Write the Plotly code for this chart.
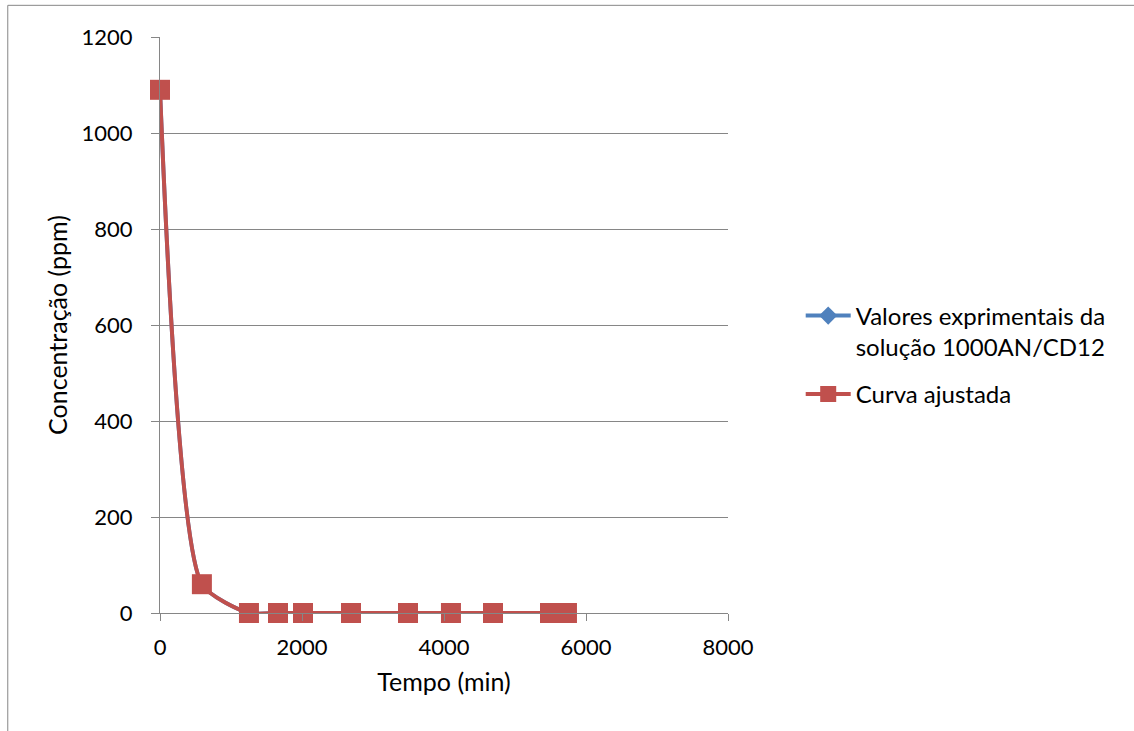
import plotly.graph_objects as go

# Time (min) and concentration (ppm)
tempo = [0, 590, 1253, 1662, 2014, 2690, 3493, 4098, 4690, 5493, 5732]
conc_exp = [1090, 60, 0, 0, 0, 0, 0, 0, 0, 0, 0]
conc_ajust = [1090, 60, 0, 0, 0, 0, 0, 0, 0, 0, 0]

FONT = "Lato"
GRID = "#868686"

fig = go.Figure()
fig.add_trace(go.Scatter(
    x=tempo, y=conc_exp, mode="lines+markers",
    name="Valores exprimentais da<br>solução 1000AN/CD12",
    legendgroup="exp",
    line=dict(color="#4F81BD", width=4, shape="spline", smoothing=0.6),
    marker=dict(symbol="diamond", size=14, color="#4F81BD"),
    cliponaxis=False,
))
fig.add_trace(go.Scatter(
    x=tempo, y=conc_ajust, mode="lines+markers",
    name="Curva ajustada",
    legendgroup="ajuste",
    line=dict(color="#C0504D", width=4, shape="spline", smoothing=0.6),
    marker=dict(symbol="square", size=20, color="#C0504D"),
    cliponaxis=False,
))

fig.update_layout(
    width=1134, height=731,
    paper_bgcolor="white", plot_bgcolor="white",
    margin=dict(l=160, r=406, t=37, b=118),
    font=dict(family=FONT, size=22, color="#000000"),
    legend=dict(x=1.128, y=0.448, xanchor="left", yanchor="middle",
                font=dict(size=24), traceorder="grouped", tracegroupgap=13,
                valign="top", itemwidth=45, bgcolor="rgba(0,0,0,0)"),
    shapes=[dict(type="rect", xref="paper", yref="paper",
                 x0=-0.268, x1=1.8, y0=-0.21, y1=1.055,
                 line=dict(color="#868686", width=1))],
)
fig.update_xaxes(
    range=[0, 8000], tickvals=[0, 2000, 4000, 6000, 8000],
    showgrid=False, zeroline=False,
    showline=True, linecolor=GRID, linewidth=1,
    ticks="outside", ticklen=7, tickcolor=GRID, ticklabelstandoff=8,
    tickfont=dict(size=22),
    title=dict(text="Tempo (min)", standoff=14, font=dict(size=25)),
)
fig.update_yaxes(
    range=[0, 1200], tickvals=[0, 200, 400, 600, 800, 1000, 1200],
    showgrid=True, gridcolor=GRID, gridwidth=1, zeroline=False,
    showline=True, linecolor=GRID, linewidth=1,
    ticks="outside", ticklen=8, tickcolor=GRID, ticklabelstandoff=14,
    tickfont=dict(size=22),
    title=dict(text="Concentração (ppm)", standoff=6, font=dict(size=25)),
)

fig.write_html("out.html")
